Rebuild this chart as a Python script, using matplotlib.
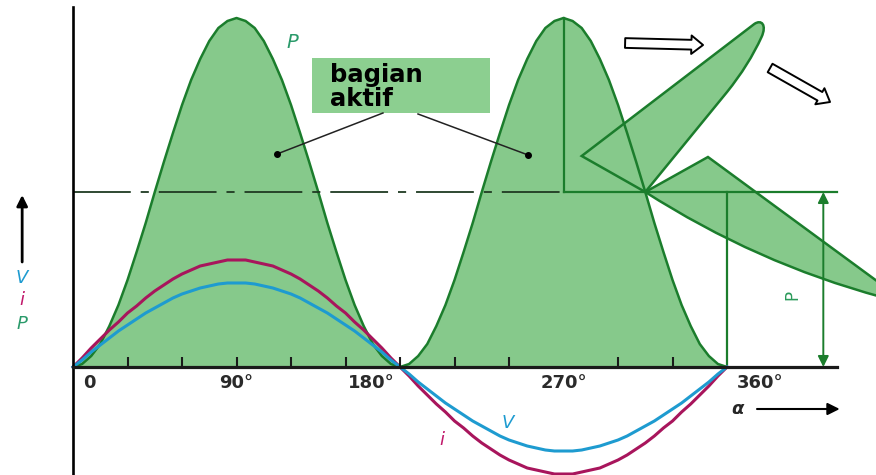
import numpy as np
import matplotlib.pyplot as plt
from matplotlib.path import Path
from matplotlib.patches import PathPatch, Rectangle

# angle (degrees) and curve values, 5 degree steps
alpha = np.arange(0, 361, 5)
v_vals = [0, 7, 15, 22, 29, 36, 42, 48, 54, 59, 64, 69, 73, 76, 79, 81, 83, 84, 84,
          84, 83, 81, 79, 76, 73, 69, 64, 59, 54, 48, 42, 36, 29, 22, 15, 7, 0,
          -7, -15, -22, -29, -36, -42, -48, -54, -59, -64, -69, -73, -76, -79, -81, -83, -84, -84,
          -84, -83, -81, -79, -76, -73, -69, -64, -59, -54, -48, -42, -36, -29, -22, -15, -7, 0]
i_vals = [0, 9, 19, 28, 37, 45, 54, 61, 69, 76, 82, 88, 93, 97, 101, 103, 105, 107, 107,
          107, 105, 103, 101, 97, 93, 88, 82, 76, 69, 61, 54, 45, 37, 28, 19, 9, 0,
          -9, -19, -28, -37, -45, -54, -61, -69, -76, -82, -88, -93, -97, -101, -103, -105, -107, -107,
          -107, -105, -103, -101, -97, -93, -88, -82, -76, -69, -61, -54, -45, -37, -28, -19, -9, 0]
p_vals = [0, 3, 11, 23, 41, 62, 87, 115, 144, 175, 205, 234, 262, 287, 308, 326, 339, 346, 349,
          346, 339, 326, 308, 287, 262, 234, 205, 175, 144, 115, 87, 62, 41, 23, 11, 3, 0,
          3, 11, 23, 41, 62, 87, 115, 144, 175, 205, 234, 262, 287, 308, 326, 339, 346, 349,
          346, 339, 326, 308, 287, 262, 234, 205, 175, 144, 115, 87, 62, 41, 23, 11, 3, 0]
p_avg = 175

tick_deg = [30, 60, 90, 120, 150, 180, 210, 240, 300, 330]
tick_text = ['0', '90°', '180°', '270°', '360°']
tick_text_pos = [9, 90, 164, 270, 378]

GREEN = '#1b7d2c'
FILL = '#86c98b'
BOX = '#8ccf90'
V_COL = '#1e9bd0'
I_COL = '#a8155c'

v = np.array(v_vals)
i = np.array(i_vals)
p = np.array(p_vals)

fig = plt.figure(figsize=(8.76, 4.75), dpi=100)
ax = fig.add_axes([0, 0, 1, 1])
ax.set_xlim(-40.2, 442.0)
ax.set_ylim(-108, 367)
ax.axis('off')

# filled power humps
first = alpha <= 180
second = alpha >= 180
ax.fill_between(alpha[first], 0, np.maximum(p, np.maximum(i, v))[first], color=FILL, lw=0, zorder=1)
ax.fill_between(alpha[second], 0, p[second], color=FILL, lw=0, zorder=1)

# leaf shapes on the right
C = (315, p_avg)
upper = Path([C, (280, 211), (375, 343), (379, 348), (382, 342), (379, 330),
              (372, 302), (360, 275), C],
             [Path.MOVETO, Path.LINETO, Path.LINETO, Path.CURVE4, Path.CURVE4, Path.CURVE4,
              Path.CURVE3, Path.CURVE3, Path.LINETO])
lower = Path([C, (349.5, 210), (447, 80), (445, 70), (376, 104), C],
             [Path.MOVETO, Path.LINETO, Path.LINETO, Path.LINETO, Path.CURVE3, Path.CURVE3])
for shape in (upper, lower):
    ax.add_patch(PathPatch(shape, facecolor=FILL, edgecolor=GREEN, lw=1.8, zorder=2))

# power curve and v, i
ax.plot(alpha, p, color=GREEN, lw=1.8, zorder=3)
ax.plot(alpha, i, color=I_COL, lw=2.2, zorder=4)
ax.plot(alpha, v, color=V_COL, lw=2.2, zorder=5)

# average power line and helpers
ax.plot([0, 270], [p_avg, p_avg], color='#1f3a22', lw=1.3, dashes=[32, 5.5, 4.5, 5.5], zorder=3)
ax.plot([270, 420.5], [p_avg, p_avg], color=GREEN, lw=1.6, zorder=3)
ax.plot([270, 270], [p_avg, max(p_vals)], color=GREEN, lw=1.6, zorder=3)
ax.plot([360, 360], [0, p_avg], color=GREEN, lw=1.6, zorder=3)
ax.annotate('', xy=(413, p_avg), xytext=(413, 0),
            arrowprops=dict(arrowstyle='<|-|>', color=GREEN, lw=1.4, mutation_scale=16,
                            shrinkA=0, shrinkB=0), zorder=3)
ax.text(396, 72, 'P', color='#2a9a5a', fontsize=12, rotation=90, ha='center', va='center')

# axes
ax.plot([0, 0], [-108, 360], color='black', lw=1.9, zorder=6)
ax.plot([0, 420.5], [0, 0], color='#1a1a1a', lw=2.3, zorder=6)
ax.vlines(tick_deg, 0, 10, color='#1a1a1a', lw=1.5, zorder=6)
for lab, x in zip(tick_text, tick_text_pos):
    ax.text(x, -16, lab, ha='center', va='center', fontsize=13, fontweight='bold', color='#2a2a2a')

# alpha arrow
ax.text(365.5, -42, 'α', ha='center', va='center', fontsize=13, fontstyle='italic',
        fontweight='bold', color='#262626')
ax.annotate('', xy=(422, -42), xytext=(376.5, -42),
            arrowprops=dict(arrowstyle='-|>', color='black', lw=1.5, mutation_scale=18,
                            shrinkA=0, shrinkB=0))

# y quantity labels
ax.annotate('', xy=(-28, 172), xytext=(-28, 105),
            arrowprops=dict(arrowstyle='-|>', color='black', lw=2, mutation_scale=16,
                            shrinkA=0, shrinkB=0))
ax.text(-28, 89, 'V', color=V_COL, fontsize=13, fontstyle='italic', ha='center', va='center')
ax.text(-28, 67, 'i', color='#c0186a', fontsize=13, fontstyle='italic', ha='center', va='center')
ax.text(-28, 43, 'P', color='#2a9a6a', fontsize=13, fontstyle='italic', ha='center', va='center')

# curve labels
ax.text(120.5, 325, 'P', color='#2a9a6a', fontsize=14, fontstyle='italic', ha='center', va='center')
ax.text(203, -73, 'i', color='#c0186a', fontsize=13, fontstyle='italic', ha='center', va='center')
ax.text(239.5, -56, 'V', color=V_COL, fontsize=13, fontstyle='italic', ha='center', va='center')

# "bagian aktif" box with leaders
ax.add_patch(Rectangle((131.6, 254), 98, 55, facecolor=BOX, edgecolor='none', zorder=6))
ax.text(141.5, 280, 'bagian\naktif', fontsize=17.5, fontweight='bold', ha='left', va='center',
        linespacing=1.05, color='black', zorder=7)
ax.plot([170.6, 112.3], [254, 213], color='#222222', lw=1.1, zorder=6)
ax.plot([189.9, 250.5], [253, 212], color='#222222', lw=1.1, zorder=6)
ax.plot([112.3, 250.5], [213, 212], 'o', color='black', ms=4, zorder=6)

# hollow motion arrows
for start, end in [((303.9, 324), (346.8, 322)), ((383.7, 299), (416.7, 265))]:
    ax.annotate('', xy=end, xytext=start,
                arrowprops=dict(arrowstyle='simple,head_length=0.6,head_width=0.95,tail_width=0.5',
                                fc='white', ec='black', lw=1.4, mutation_scale=14,
                                shrinkA=0, shrinkB=0))

fig.savefig('out.png', dpi=100)
